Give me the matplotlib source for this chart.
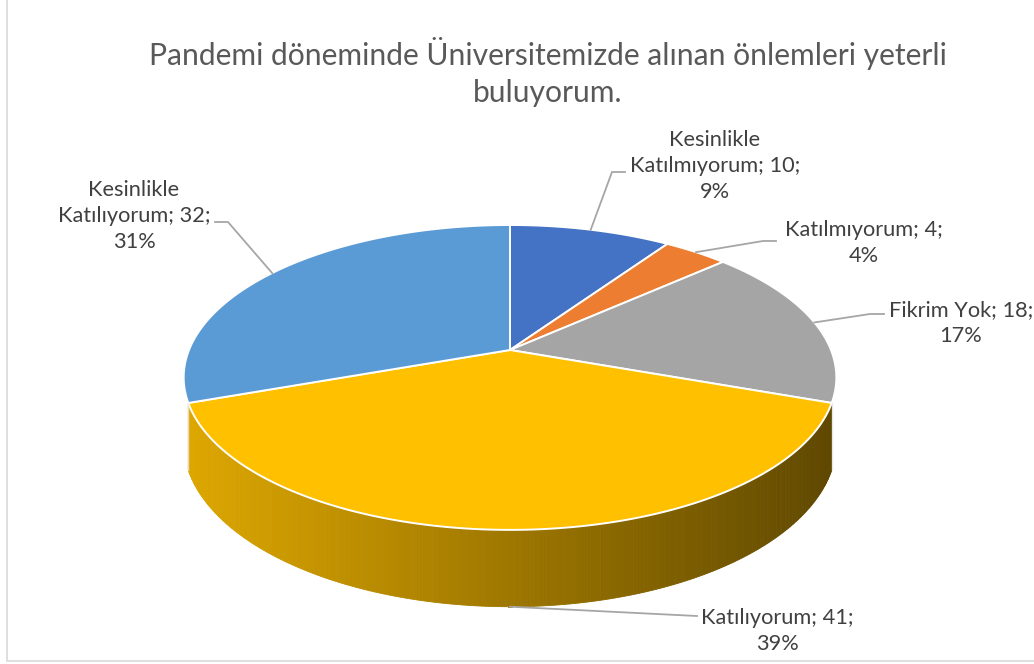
import matplotlib
matplotlib.use("Agg")
import numpy as np
import matplotlib.pyplot as plt
from matplotlib.patches import Polygon, Rectangle

# data
categories = ["Kesinlikle\nKatılmıyorum", "Katılmıyorum", "Fikrim Yok", "Katılıyorum", "Kesinlikle\nKatılıyorum"]
counts = [10, 4, 18, 41, 32]
pct_labels = ["9%", "4%", "17%", "39%", "31%"]
colors = ["#4472C4", "#ED7D31", "#A5A5A5", "#FFC000", "#5B9BD5"]
title = "Pandemi döneminde Üniversitemizde alınan önlemleri yeterli\nbuluyorum."

# label layout (pixel space): text centre, leader elbow points
label_xy = [(715, 166), (864, 243), (961, 323), (777, 631), (134, 216)]
label_text = [f"{c}; {n};\n{p}" for c, n, p in zip(categories, counts, pct_labels)]
leader_pts = [[(612, 172), (625, 172)], [(763, 241), (776, 241)], [(870, 314), (884, 314)],
              [(697, 616)], [(228, 222), (215, 222)]]

# 3d pie projection (pixels)
CX, CY = 510, 350
A, B, K, H = 321, 147.5, 0.18, 63


def proj(theta, drop=0.0):
    # theta in degrees, clockwise from 12 o'clock
    t = np.radians(theta)
    u, v = np.sin(t), np.cos(t)
    d = 1 + K * v
    return CX + A * u / d, CY - B * v / d + drop / d


fig = plt.figure(figsize=(10.34, 6.64), dpi=100)
ax = fig.add_axes([0, 0, 1, 1])
ax.set_xlim(0, 1034)
ax.set_ylim(664, 0)
ax.axis("off")

ax.add_patch(Rectangle((6.5, -5), 1040, 665.5, fill=False, ec="#D9D9D9", lw=1.2))

total = sum(counts)
bounds = np.concatenate([[0], np.cumsum(counts) / total * 360])
mids = (bounds[:-1] + bounds[1:]) / 2

# side wall: only the front slice shows one
for i in range(len(counts)):
    if not (135 < mids[i] < 225):
        continue
    a0, a1 = bounds[i], bounds[i + 1]
    base = np.array(matplotlib.colors.to_rgb(colors[i]))
    th = np.linspace(a0, a1, 300)
    for j in range(len(th) - 1):
        x0, y0 = proj(th[j])
        x1, y1 = proj(th[j + 1])
        x2, y2 = proj(th[j + 1], H)
        x3, y3 = proj(th[j], H)
        f = np.interp((x0 + x1) / 2, [186, 834], [0.87, 0.37])
        c = base * f
        ax.add_patch(Polygon([(x0, y0), (x1, y1), (x2, y2), (x3, y3)], closed=True,
                             fc=c, ec=c, lw=0.6))
    for a in (a0, a1):
        xs, ys = zip(proj(a), proj(a, H))
        ax.plot(xs, ys, color="#E8E8E8", lw=1.0, alpha=0.8)

# top faces
for i in range(len(counts)):
    th = np.linspace(bounds[i], bounds[i + 1], 200)
    pts = [(CX, CY)] + [proj(t) for t in th]
    ax.add_patch(Polygon(pts, closed=True, fc=colors[i], ec="white", lw=1.4, joinstyle="round"))

# labels + leader lines
for i in range(len(counts)):
    if 135 < mids[i] < 225:
        anchor = proj(mids[i], H)
    else:
        anchor = proj(mids[i])
    xs, ys = zip(*([anchor] + leader_pts[i]))
    ax.plot(xs, ys, color="#A6A6A6", lw=1.3)
    ax.text(label_xy[i][0], label_xy[i][1], label_text[i], ha="center", va="center",
            fontsize=15.7, color="#404040", family="Lato", linespacing=1.4)

ax.text(548, 72, title, ha="center", va="center", fontsize=21.6, color="#595959",
        family="Lato", linespacing=1.42)

fig.savefig("out.png", dpi=100)
